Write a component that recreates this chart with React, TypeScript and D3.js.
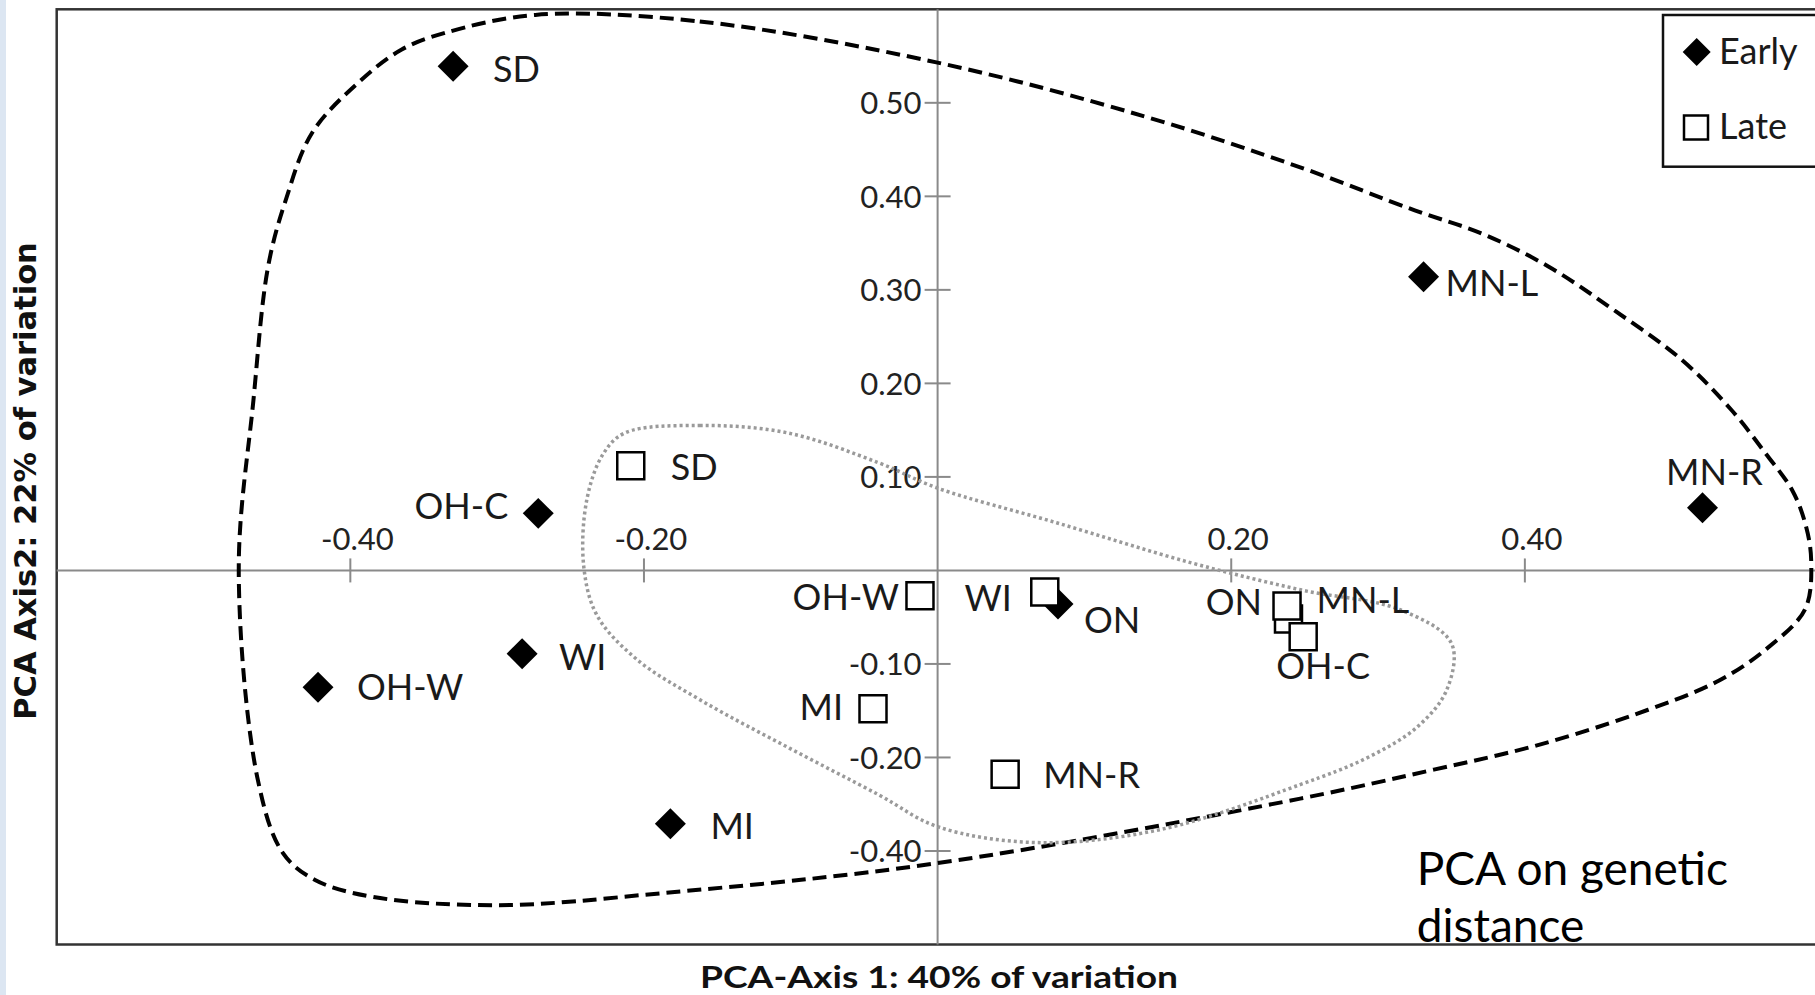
import React, { useRef, useEffect } from "react";
import * as d3 from "d3";

// PCA scores
const earlyNames = ["SD", "MN-L", "MN-R", "OH-C", "WI", "OH-W", "MI", "ON"];
const earlyX = [-0.33, 0.331, 0.521, -0.272, -0.283, -0.422, -0.182, 0.082];
const earlyY = [0.539, 0.314, 0.067, 0.061, -0.089, -0.125, -0.271, -0.036];

// middle square of the cluster is drawn first (it sits underneath)
const lateNames = ["SD", "OH-W", "WI", "MN-L", "ON", "OH-C", "MI", "MN-R"];
const lateX = [-0.209, -0.012, 0.073, 0.239, 0.238, 0.249, -0.044, 0.046];
const lateY = [0.112, -0.027, -0.023, -0.052, -0.038, -0.071, -0.148, -0.218];

const xTicks = [-0.4, -0.2, 0.2, 0.4];
const xTickLabels = ["-0.40", "-0.20", "0.20", "0.40"];
const yTicks = [0.5, 0.4, 0.3, 0.2, 0.1, -0.1, -0.2, -0.3];
const yTickLabels = ["0.50", "0.40", "0.30", "0.20", "0.10", "-0.10", "-0.20", "-0.40"];

// hand drawn envelopes, in axis units
const earlyHull = [
  [-0.274, 0.594], [-0.162, 0.587], [0.0, 0.543], [0.142, 0.485], [0.247, 0.431],
  [0.325, 0.385], [0.371, 0.36], [0.416, 0.325], [0.461, 0.278], [0.507, 0.225],
  [0.541, 0.171], [0.564, 0.125], [0.582, 0.086], [0.591, 0.05], [0.595, 0.011],
  [0.591, -0.041], [0.566, -0.082], [0.532, -0.118], [0.475, -0.154], [0.406, -0.188],
  [0.338, -0.213], [0.247, -0.244], [0.0, -0.313], [-0.187, -0.345], [-0.3, -0.358],
  [-0.385, -0.349], [-0.424, -0.331], [-0.446, -0.302], [-0.463, -0.224], [-0.476, 0.0],
  [-0.466, 0.182], [-0.456, 0.325], [-0.444, 0.396], [-0.426, 0.468], [-0.395, 0.521],
  [-0.365, 0.557], [-0.335, 0.575]
];
const lateHull = [
  [-0.213, 0.147], [-0.162, 0.155], [-0.102, 0.147], [-0.04, 0.115], [0.0, 0.088],
  [0.081, 0.051], [0.173, 0.008], [0.248, -0.021], [0.315, -0.042], [0.35, -0.078],
  [0.347, -0.127], [0.327, -0.167], [0.293, -0.2], [0.247, -0.229], [0.152, -0.277],
  [0.067, -0.291], [0.0, -0.274], [-0.04, -0.24], [-0.101, -0.19], [-0.16, -0.14],
  [-0.205, -0.095], [-0.232, -0.048], [-0.241, 0.004], [-0.239, 0.075], [-0.228, 0.124]
];

// where each point label sits relative to its marker
const earlyLabelPos = {
  "SD": [40, 3, "start"], "MN-L": [22, 6, "start"], "MN-R": [12, -36, "middle"],
  "OH-C": [-30, -7, "end"], "WI": [37, 3, "start"], "OH-W": [39, 0, "start"],
  "MI": [40, 2, "start"], "ON": [26, 16, "start"]
};
const lateLabelPos = {
  "SD": [40, 1, "start"], "OH-W": [-21, 1, "end"], "WI": [-33, 6, "end"],
  "ON": [-25, -4, "end"], "MN-L": [28, -19, "start"], "OH-C": [20, 29, "middle"],
  "MI": [-30, -2, "end"], "MN-R": [38, 1, "start"]
};

const W = 1815, H = 995;
const plot = { left: 56.7, top: 9.3, right: 1818.5, bottom: 944.5 };

const App = () => {
  const ref = useRef(null);

  useEffect(() => {
    document.body.style.margin = "0";
    document.body.style.overflow = "hidden";
    const svg = d3.select(ref.current);
    svg.selectAll("*").remove();

    const x = d3.scaleLinear().domain([-0.6, 0.6]).range([plot.left, plot.right]);
    const y = d3.scaleLinear().domain([-0.4, 0.6]).range([plot.bottom, plot.top]);

    svg.append("rect").attr("width", W).attr("height", H).attr("fill", "#fff");
    svg.append("rect").attr("width", 6).attr("height", H).attr("fill", "#dce6f2");

    // frame (right side runs off the picture)
    svg.append("rect")
      .attr("x", plot.left).attr("y", plot.top)
      .attr("width", plot.right - plot.left + 12).attr("height", plot.bottom - plot.top)
      .attr("fill", "none").attr("stroke", "#333").attr("stroke-width", 2.5);

    // axes through the origin
    const axisColor = "#8a8a8a";
    svg.append("line").attr("x1", plot.left).attr("x2", W)
      .attr("y1", y(0)).attr("y2", y(0)).attr("stroke", axisColor).attr("stroke-width", 2);
    svg.append("line").attr("x1", x(0)).attr("x2", x(0))
      .attr("y1", plot.top).attr("y2", plot.bottom).attr("stroke", axisColor).attr("stroke-width", 2);

    const tickFont = "Lato, 'Open Sans', sans-serif";
    svg.append("g").selectAll("line").data(xTicks).enter().append("line")
      .attr("x1", d => x(d)).attr("x2", d => x(d))
      .attr("y1", y(0) - 12).attr("y2", y(0) + 12)
      .attr("stroke", axisColor).attr("stroke-width", 2);
    svg.append("g").selectAll("text").data(xTicks).enter().append("text")
      .attr("x", d => x(d) + 7).attr("y", y(0) - 20)
      .attr("text-anchor", "middle")
      .style("font", `31px ${tickFont}`).attr("fill", "#222")
      .text((d, i) => xTickLabels[i]);

    svg.append("g").selectAll("line").data(yTicks).enter().append("line")
      .attr("x1", x(0) - 13).attr("x2", x(0) + 13)
      .attr("y1", d => y(d)).attr("y2", d => y(d))
      .attr("stroke", axisColor).attr("stroke-width", 2);
    svg.append("g").selectAll("text").data(yTicks).enter().append("text")
      .attr("x", x(0) - 16).attr("y", d => y(d)).attr("dy", "0.36em")
      .attr("text-anchor", "end")
      .style("font", `31px ${tickFont}`).attr("fill", "#222")
      .text((d, i) => yTickLabels[i]);

    // envelopes
    const hull = d3.line()
      .x(d => x(d[0])).y(d => y(d[1]))
      .curve(d3.curveCatmullRomClosed.alpha(0.5));
    svg.append("path").attr("d", hull(earlyHull))
      .attr("fill", "none").attr("stroke", "#000").attr("stroke-width", 4)
      .attr("stroke-dasharray", "14 7");
    svg.append("path").attr("d", hull(lateHull))
      .attr("fill", "none").attr("stroke", "#9a9a9a").attr("stroke-width", 3.5)
      .attr("stroke-dasharray", "3 3");

    const diamond = d3.symbol(d3.symbolSquare, 480);
    const square = d3.symbol(d3.symbolSquare, 27 * 27);
    const labelFont = "36px Lato, 'Open Sans', sans-serif";

    const early = earlyNames.map((n, i) => ({ name: n, x: earlyX[i], y: earlyY[i] }));
    const late = lateNames.map((n, i) => ({ name: n, x: lateX[i], y: lateY[i] }));

    svg.append("g").selectAll("path").data(early).enter().append("path")
      .attr("d", diamond())
      .attr("transform", d => `translate(${x(d.x)},${y(d.y)}) rotate(45)`)
      .attr("fill", "#000");

    svg.append("g").selectAll("path").data(late).enter().append("path")
      .attr("d", square())
      .attr("transform", d => `translate(${x(d.x)},${y(d.y)})`)
      .attr("fill", "#fff").attr("stroke", "#000").attr("stroke-width", 2.5);

    const addLabels = (pts, pos) => {
      svg.append("g").selectAll("text").data(pts).enter().append("text")
        .attr("x", d => x(d.x) + pos[d.name][0])
        .attr("y", d => y(d.y) + pos[d.name][1])
        .attr("dy", "0.36em")
        .attr("text-anchor", d => pos[d.name][2])
        .style("font", labelFont).attr("fill", "#1a1a1a")
        .text(d => d.name);
    };
    addLabels(early, earlyLabelPos);
    addLabels(late, lateLabelPos);

    // legend
    const lg = svg.append("g");
    lg.append("rect").attr("x", 1663).attr("y", 15).attr("width", 170).attr("height", 151.7)
      .attr("fill", "#fff").attr("stroke", "#111").attr("stroke-width", 2.5);
    lg.append("path").attr("d", d3.symbol(d3.symbolSquare, 392)())
      .attr("transform", "translate(1696.7,52) rotate(45)").attr("fill", "#000");
    lg.append("path").attr("d", d3.symbol(d3.symbolSquare, 576)())
      .attr("transform", "translate(1696,127.5)")
      .attr("fill", "#fff").attr("stroke", "#000").attr("stroke-width", 2.5);
    lg.append("text").attr("x", 1719).attr("y", 63.5)
      .style("font", "36px Lato, sans-serif").attr("fill", "#1a1a1a").text("Early");
    lg.append("text").attr("x", 1719).attr("y", 138.5)
      .style("font", "36px Lato, sans-serif").attr("fill", "#1a1a1a").text("Late");

    // axis titles
    svg.append("text")
      .attr("transform", "translate(36,481) rotate(-90)")
      .attr("text-anchor", "middle")
      .style("font", "bold 30.5px 'DejaVu Sans', Verdana, sans-serif")
      .attr("fill", "#111")
      .text("PCA Axis2: 22% of variation");
    svg.append("text")
      .attr("x", 939).attr("y", 988)
      .attr("text-anchor", "middle")
      .attr("textLength", 478).attr("lengthAdjust", "spacingAndGlyphs")
      .style("font", "bold 31px Lato, sans-serif")
      .attr("fill", "#111")
      .text("PCA-Axis 1: 40% of variation");

    // annotation
    const note = svg.append("text").style("font", "46px Lato, 'Open Sans', sans-serif").attr("fill", "#000");
    note.append("tspan").attr("x", 1416.7).attr("y", 885).text("PCA on genetic");
    note.append("tspan").attr("x", 1416.7).attr("y", 941.7).text("distance");
  }, []);

  return (
    <svg ref={ref} width={W} height={H}
      style={{ position: "absolute", left: 0, top: 0, display: "block" }} />
  );
};

export default App;
